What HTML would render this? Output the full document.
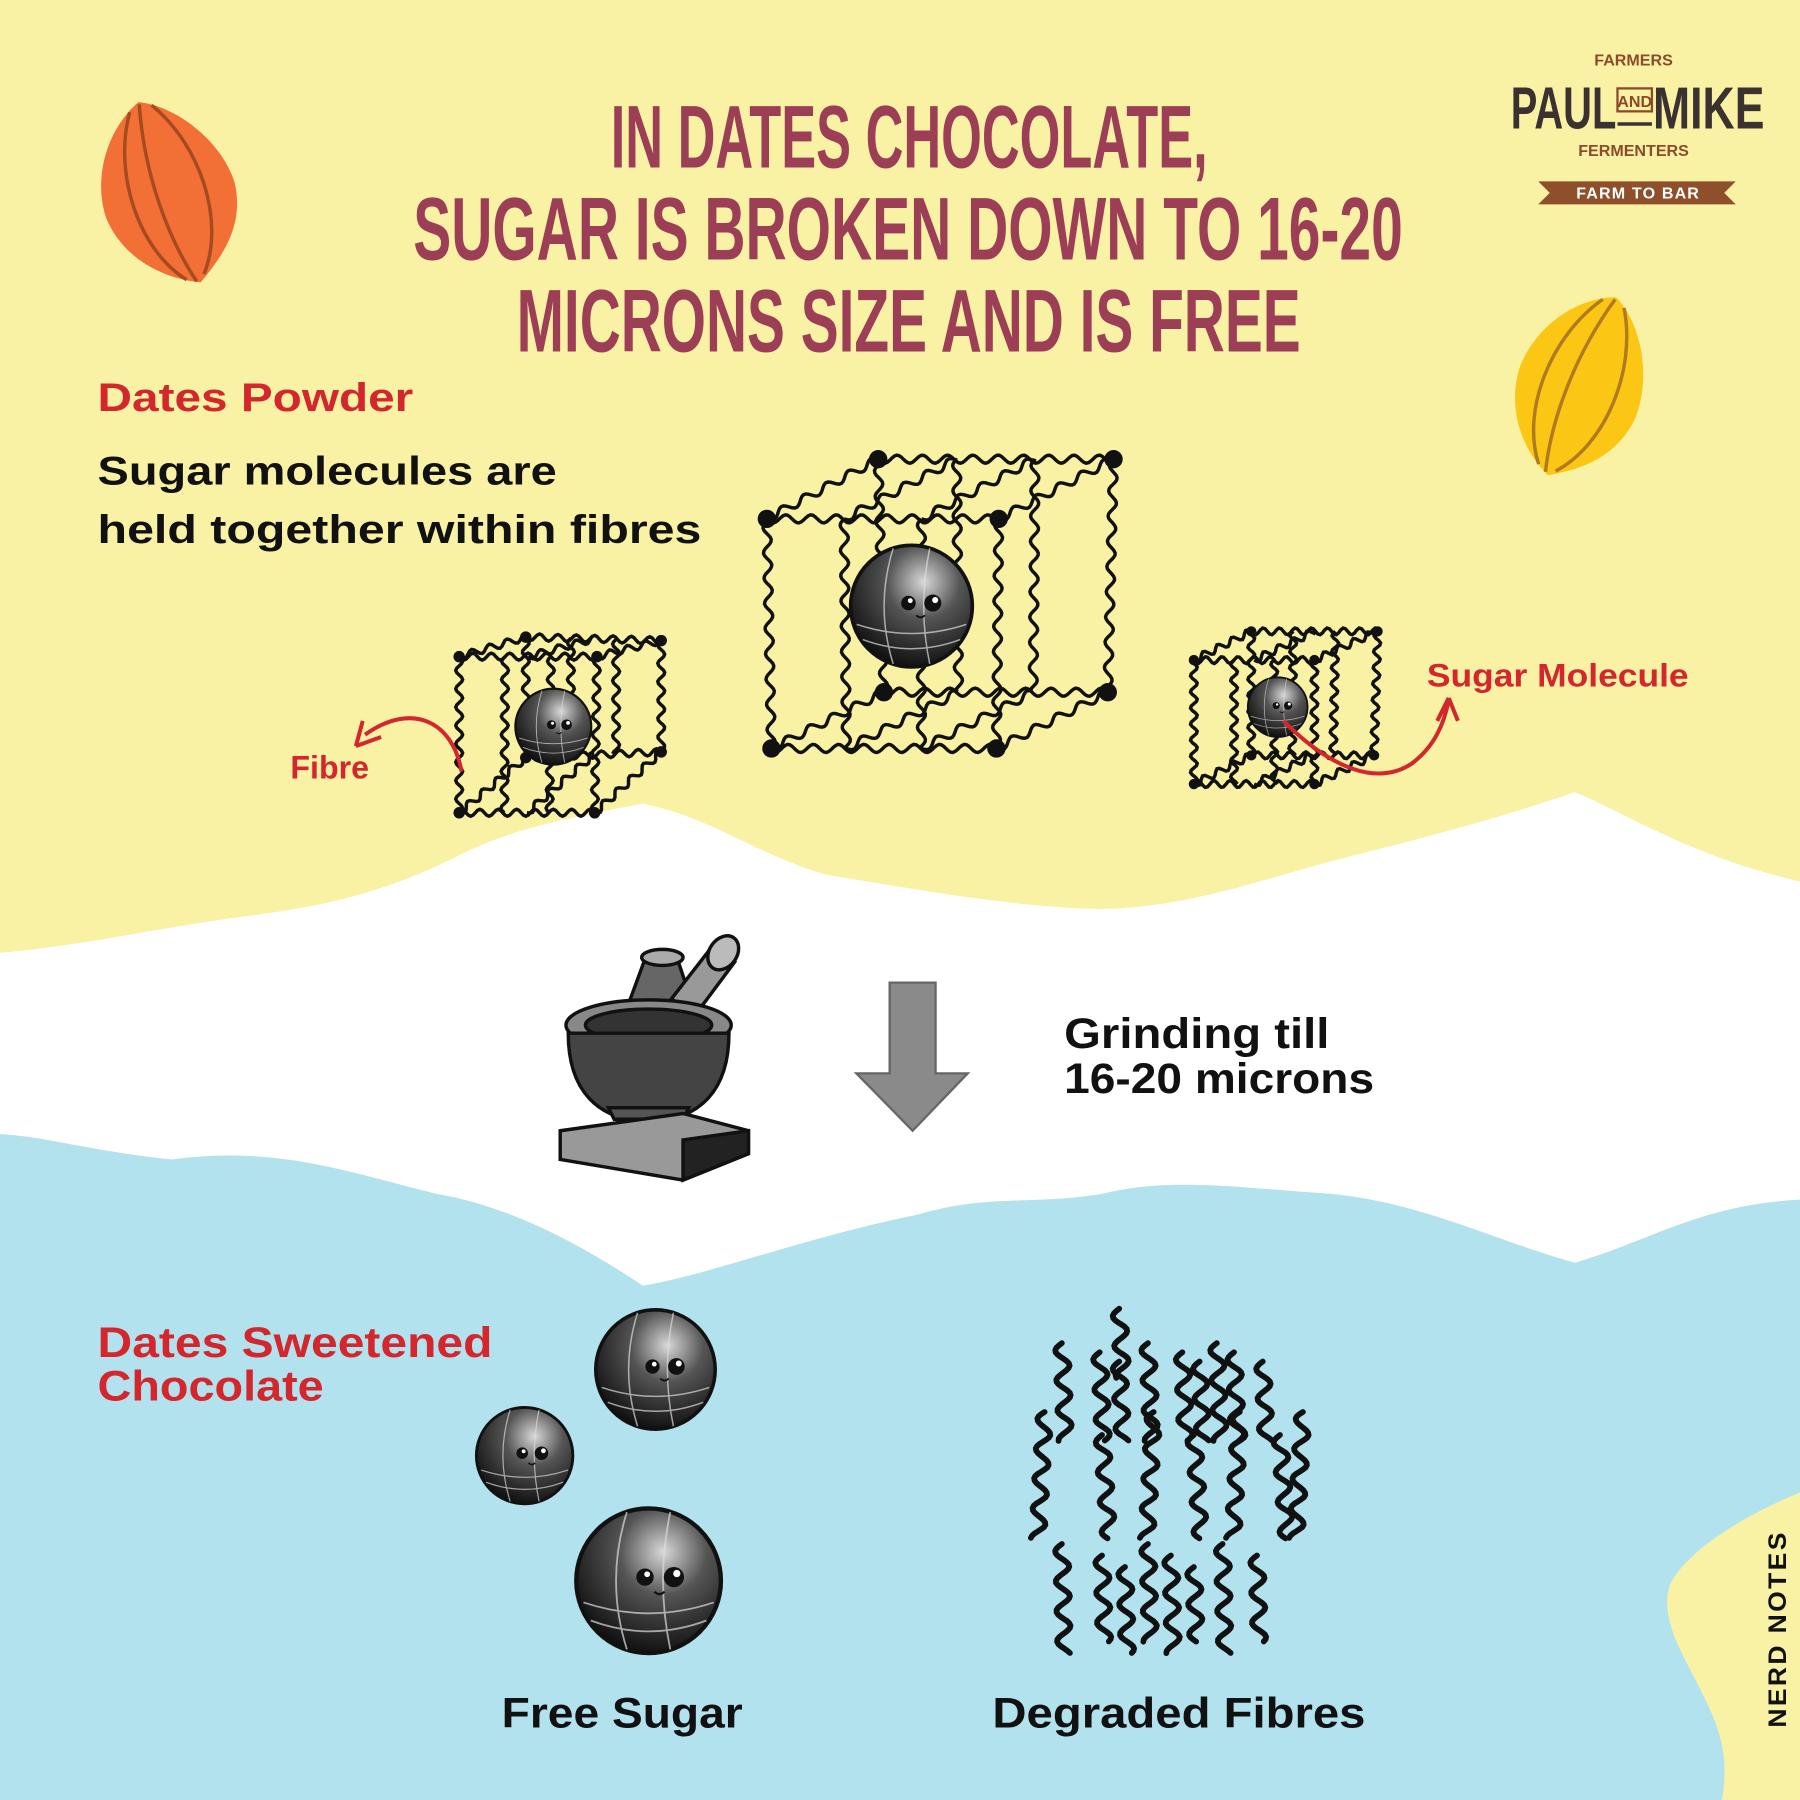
<!DOCTYPE html>
<html><head><meta charset="utf-8">
<style>
html,body{margin:0;padding:0;background:#f9f2a5;}
svg{display:block;}
text{font-family:"Liberation Sans",sans-serif;}
</style></head>
<body>
<svg id="s" width="1800" height="1800" viewBox="0 0 1568 1568" xmlns="http://www.w3.org/2000/svg">
<rect width="1568" height="1568" fill="#f9f2a5"/>
<path d="M0,830 C60,825 120,812 200,800 C280,790 330,780 400,745 C450,720 500,712 560,700 C620,712 660,745 720,762 C800,775 880,790 960,792 C1040,790 1100,765 1180,745 C1260,725 1320,708 1372,690 C1420,710 1470,745 1568,768 L1568,1045 C1480,1050 1440,1080 1372,1100 C1300,1080 1240,1048 1160,1040 C1080,1035 1020,1025 960,1040 C900,1050 860,1040 800,1058 C700,1078 620,1110 560,1120 C500,1080 440,1050 380,1040 C300,1020 240,998 150,1010 C80,1003 40,990 0,988 Z" fill="#ffffff"/>
<path d="M0,988 C40,990 80,1003 150,1010 C240,998 300,1020 380,1040 C440,1050 500,1080 560,1120 C620,1110 700,1078 800,1058 C860,1040 900,1050 960,1040 C1020,1025 1080,1035 1160,1040 C1240,1048 1300,1080 1372,1100 C1440,1080 1480,1050 1568,1045 L1568,1568 L0,1568 Z" fill="#b3e2ef"/>
<path d="M1568,1300 C1520,1320 1470,1350 1455,1380 C1440,1420 1490,1470 1500,1520 C1505,1545 1500,1568 1500,1568 L1568,1568 Z" fill="#f9f2a5"/>
<text transform="translate(1556,1505) rotate(-90)" font-size="22" font-weight="bold" fill="#111" textLength="172" lengthAdjust="spacingAndGlyphs" letter-spacing="2">NERD NOTES</text>

<g transform="translate(146,167) rotate(-18)">
<path d="M0,-82 C28,-70 58,-30 58,10 C55,50 25,70 3,84 C-25,72 -55,45 -58,5 C-58,-35 -30,-70 0,-82 Z" fill="#f26f35"/>
<g fill="none" stroke="#a64a22" stroke-width="3">
<path d="M-10,-76 C-40,-30 -40,40 -8,78"/><path d="M10,-76 C40,-30 40,40 8,78"/><path d="M0,-80 C-15,-20 -12,40 0,82"/>
</g></g>
<g transform="translate(1377,335) rotate(22)">
<path d="M0,-82 C28,-70 55,-30 55,10 C52,50 25,70 3,84 C-25,72 -52,45 -55,5 C-55,-35 -30,-70 0,-82 Z" fill="#fcc614"/>
<g fill="none" stroke="#b07a20" stroke-width="3">
<path d="M-10,-76 C-40,-30 -40,40 -8,78"/><path d="M10,-76 C40,-30 40,40 8,78"/><path d="M0,-80 C-15,-20 -12,40 0,82"/>
</g></g>

<g fill="#9c3f56" font-family="'Liberation Sans Narrow','Liberation Sans',sans-serif" font-weight="bold" font-size="78">
<text x="532" y="146" textLength="520" lengthAdjust="spacingAndGlyphs">IN DATES CHOCOLATE,</text>
<text x="360" y="226" textLength="862" lengthAdjust="spacingAndGlyphs">SUGAR IS BROKEN DOWN TO 16-20</text>
<text x="450" y="306" textLength="683" lengthAdjust="spacingAndGlyphs">MICRONS SIZE AND IS FREE</text>
</g>

<g>
<text x="1423" y="57" font-size="14" font-weight="bold" fill="#8b4a2a" text-anchor="middle" font-family="'Liberation Sans Narrow',sans-serif">FARMERS</text>
<text x="1316" y="112" font-size="52" font-weight="bold" fill="#3b3131" font-family="'Liberation Sans Narrow',sans-serif" textLength="92" lengthAdjust="spacingAndGlyphs">PAUL</text>
<text x="1440" y="112" font-size="52" font-weight="bold" fill="#3b3131" font-family="'Liberation Sans Narrow',sans-serif" textLength="97" lengthAdjust="spacingAndGlyphs">MIKE</text>
<rect x="1409" y="77" width="30" height="20" fill="none" stroke="#8b4a2a" stroke-width="2"/>
<text x="1424" y="93" font-size="14" font-weight="bold" fill="#8b4a2a" text-anchor="middle" font-family="'Liberation Sans Narrow',sans-serif">AND</text>
<line x1="1409" y1="108" x2="1439" y2="108" stroke="#3b3131" stroke-width="3"/>
<text x="1423" y="136" font-size="14" font-weight="bold" fill="#8b4a2a" text-anchor="middle" font-family="'Liberation Sans Narrow',sans-serif">FERMENTERS</text>
<path d="M1340,158 L1512,158 L1502,168 L1512,178 L1340,178 L1350,168 Z" fill="#8f4f2a"/>
<text x="1427" y="173" font-size="14" font-weight="bold" fill="#fff" text-anchor="middle" letter-spacing="1">FARM TO BAR</text>
</g>

<text x="85" y="358" font-size="35" font-weight="bold" fill="#d3262d" textLength="275" lengthAdjust="spacingAndGlyphs">Dates Powder</text>
<text x="85" y="422" font-size="35" fill="#111" font-weight="bold" textLength="400" lengthAdjust="spacingAndGlyphs">Sugar molecules are</text>
<text x="85" y="473" font-size="35" fill="#111" font-weight="bold" textLength="526" lengthAdjust="spacingAndGlyphs">held together within fibres</text>

<g id="waves" fill="none" stroke="#111" stroke-width="3"></g>
<g id="dots" fill="#111"></g>

<defs>
<radialGradient id="sg" cx="0.6" cy="0.3" r="0.75">
<stop offset="0" stop-color="#d8d8d8"/><stop offset="0.4" stop-color="#555"/><stop offset="1" stop-color="#0a0a0a"/>
</radialGradient>
<g id="sph">
<circle r="1" fill="url(#sg)" stroke="#111" stroke-width="0.06"/>
<g fill="none" stroke="#ddd" stroke-width="0.025" opacity="0.7">
<path d="M-0.9,0.3 Q0,0.6 0.9,0.3"/><path d="M-0.8,0.55 Q0,0.85 0.8,0.55"/><path d="M-0.3,-0.95 Q-0.6,0 -0.3,0.95"/><path d="M0.3,-0.95 Q0.1,0 0.3,0.95"/>
</g>
<circle cx="-0.05" cy="-0.05" r="0.12" fill="#111"/><circle cx="0.35" cy="-0.05" r="0.14" fill="#111"/>
<circle cx="-0.02" cy="-0.09" r="0.04" fill="#fff"/><circle cx="0.39" cy="-0.1" r="0.05" fill="#fff"/>
<path d="M0.08,0.15 Q0.15,0.22 0.22,0.15" fill="none" stroke="#111" stroke-width="0.03"/>
</g>
</defs>
<use href="#sph" transform="translate(794,528) scale(53)"/>
<use href="#sph" transform="translate(482,633) scale(33)"/>
<use href="#sph" transform="translate(1113,616) scale(26)"/>
<use href="#sph" transform="translate(571,1193) scale(52)"/>
<use href="#sph" transform="translate(457,1268) scale(42)"/>
<use href="#sph" transform="translate(565,1377) scale(63)"/>

<g fill="none" stroke="#d3262d" stroke-width="3.5">
<path d="M402,672 C395,630 360,610 318,640"/>
<path d="M310,650 L316,628 M310,650 L332,642"/>
<path d="M1118,628 C1160,670 1200,685 1230,665 C1250,650 1258,630 1262,610"/>
<path d="M1262,608 L1252,628 M1262,608 L1270,628"/>
</g>
<text x="253" y="678" font-size="28" font-weight="bold" fill="#d3262d">Fibre</text>
<text x="1243" y="598" font-size="28" font-weight="bold" fill="#d3262d" textLength="228" lengthAdjust="spacingAndGlyphs">Sugar Molecule</text>

<g stroke="#111" stroke-width="3">
<path d="M540,895 L562,835 L590,835 L610,895 Z" fill="#666"/>
<ellipse cx="577" cy="834" rx="18" ry="7" fill="#aaa"/>
<path d="M585,870 L620,825 L640,838 L605,885 Z" fill="#999"/>
<ellipse cx="630" cy="830" rx="12" ry="16" transform="rotate(35 630 830)" fill="#bbb"/>
<ellipse cx="565" cy="893" rx="72" ry="22" fill="#888"/>
<ellipse cx="565" cy="893" rx="55" ry="14" fill="#333"/>
<path d="M495,900 C495,950 520,975 565,978 C610,975 635,950 635,900 Z" fill="#444"/>
<path d="M535,975 L595,975 L600,965 L530,965 Z" fill="#555"/>
<path d="M488,985 L595,970 L652,985 L652,1005 L595,1028 L488,1010 Z" fill="#999"/>
<path d="M595,993 L652,985 L652,1005 L595,1028 Z" fill="#222"/>
</g>
<path d="M775,856 L815,856 L815,935 L843,935 L795,985 L746,935 L775,935 Z" fill="#8a8a8a" stroke="#666" stroke-width="2"/>
<text x="927" y="913" font-size="37" font-weight="bold" fill="#111" textLength="231" lengthAdjust="spacingAndGlyphs">Grinding till</text>
<text x="927" y="952" font-size="37" font-weight="bold" fill="#111" textLength="270" lengthAdjust="spacingAndGlyphs">16-20 microns</text>

<text x="85" y="1182" font-size="37" font-weight="bold" fill="#d3262d" textLength="344" lengthAdjust="spacingAndGlyphs">Dates Sweetened</text>
<text x="85" y="1220" font-size="37" font-weight="bold" fill="#d3262d" textLength="197" lengthAdjust="spacingAndGlyphs">Chocolate</text>
<text x="542" y="1505" font-size="37" font-weight="bold" fill="#111" text-anchor="middle" textLength="210" lengthAdjust="spacingAndGlyphs">Free Sugar</text>
<text x="1027" y="1505" font-size="37" font-weight="bold" fill="#111" text-anchor="middle" textLength="325" lengthAdjust="spacingAndGlyphs">Degraded Fibres</text>

<g id="fib" fill="none" stroke="#111" stroke-width="5" stroke-linecap="round"></g>
</svg>
<script>
(function(){
var NS="http://www.w3.org/2000/svg";
function wave(g,x1,y1,x2,y2,amp,wl){
 var dx=x2-x1,dy=y2-y1,L=Math.sqrt(dx*dx+dy*dy),nx=-dy/L,ny=dx/L,pts=[],n=Math.max(8,Math.round(L/2));
 for(var i=0;i<=n;i++){var t=i/n,o=amp*Math.sin(t*L/wl*2*Math.PI);pts.push((x1+dx*t+nx*o).toFixed(1)+","+(y1+dy*t+ny*o).toFixed(1));}
 var p=document.createElementNS(NS,"polyline");p.setAttribute("points",pts.join(" "));g.appendChild(p);
}
var W=document.getElementById("waves"),D=document.getElementById("dots");
function dot(x,y,r){var c=document.createElementNS(NS,"circle");c.setAttribute("cx",x);c.setAttribute("cy",y);c.setAttribute("r",r);D.appendChild(c);}
function lerp(a,b,t){return [a[0]+(b[0]-a[0])*t,a[1]+(b[1]-a[1])*t];}
function cube(f,b,amp,wl,nv,nd,dr){
 var E=[[f[0],f[1]],[f[1],f[2]],[f[2],f[3]],[f[3],f[0]],[b[0],b[1]],[b[1],b[2]],[b[2],b[3]],[b[3],b[0]],[f[0],b[0]],[f[1],b[1]],[f[2],b[2]],[f[3],b[3]]];
 E.forEach(function(e){wave(W,e[0][0],e[0][1],e[1][0],e[1][1],amp,wl);});
 for(var i=1;i<nv;i++){var t=i/nv;
  var a=lerp(f[0],f[1],t),c=lerp(f[3],f[2],t);wave(W,a[0],a[1],c[0],c[1],amp,wl);
  var a2=lerp(b[0],b[1],t),c2=lerp(b[3],b[2],t);wave(W,a2[0],a2[1],c2[0],c2[1],amp,wl);
 }
 for(var j=1;j<nd;j++){var t=j/nd;
  var s1=lerp(f[0],f[1],t),s2=lerp(b[0],b[1],t);wave(W,s1[0],s1[1],s2[0],s2[1],amp,wl);
  var u1=lerp(f[3],f[2],t),u2=lerp(b[3],b[2],t);wave(W,u1[0],u1[1],u2[0],u2[1],amp,wl);
 }
 f.concat(b).forEach(function(p){dot(p[0],p[1],dr);});
}
cube([[668,452],[870,452],[868,652],[672,652]],[[765,400],[970,400],[965,603],[770,603]],3.5,22,3,3,8);
cube([[400,572],[520,572],[518,708],[400,708]],[[458,555],[576,558],[576,655],[458,660]],3,16,3,2,5);
cube([[1040,575],[1145,575],[1145,683],[1040,683]],[[1090,550],[1200,550],[1197,658],[1090,658]],3,14,3,2,4.5);
var F=document.getElementById("fib");
var xs=[925,958,975,1000,1030,1045,1060,1075,1100];
xs.forEach(function(x,i){wave(F,x,1170+(i%3)*8,x+3,1255,6,26);});
[910,960,1005,1040,1080,1115,1135].forEach(function(x,i){wave(F,x,1230+(i%2)*20,x+(i%2?6:-6),1340,6,26);});
[925,960,980,1000,1020,1040,1065,1095].forEach(function(x,i){wave(F,x,1345+(i%3)*10,x+2,1440-(i%2)*10,6,26);});
wave(F,975,1140,978,1200,6,26);
})();
</script>
</body></html>
